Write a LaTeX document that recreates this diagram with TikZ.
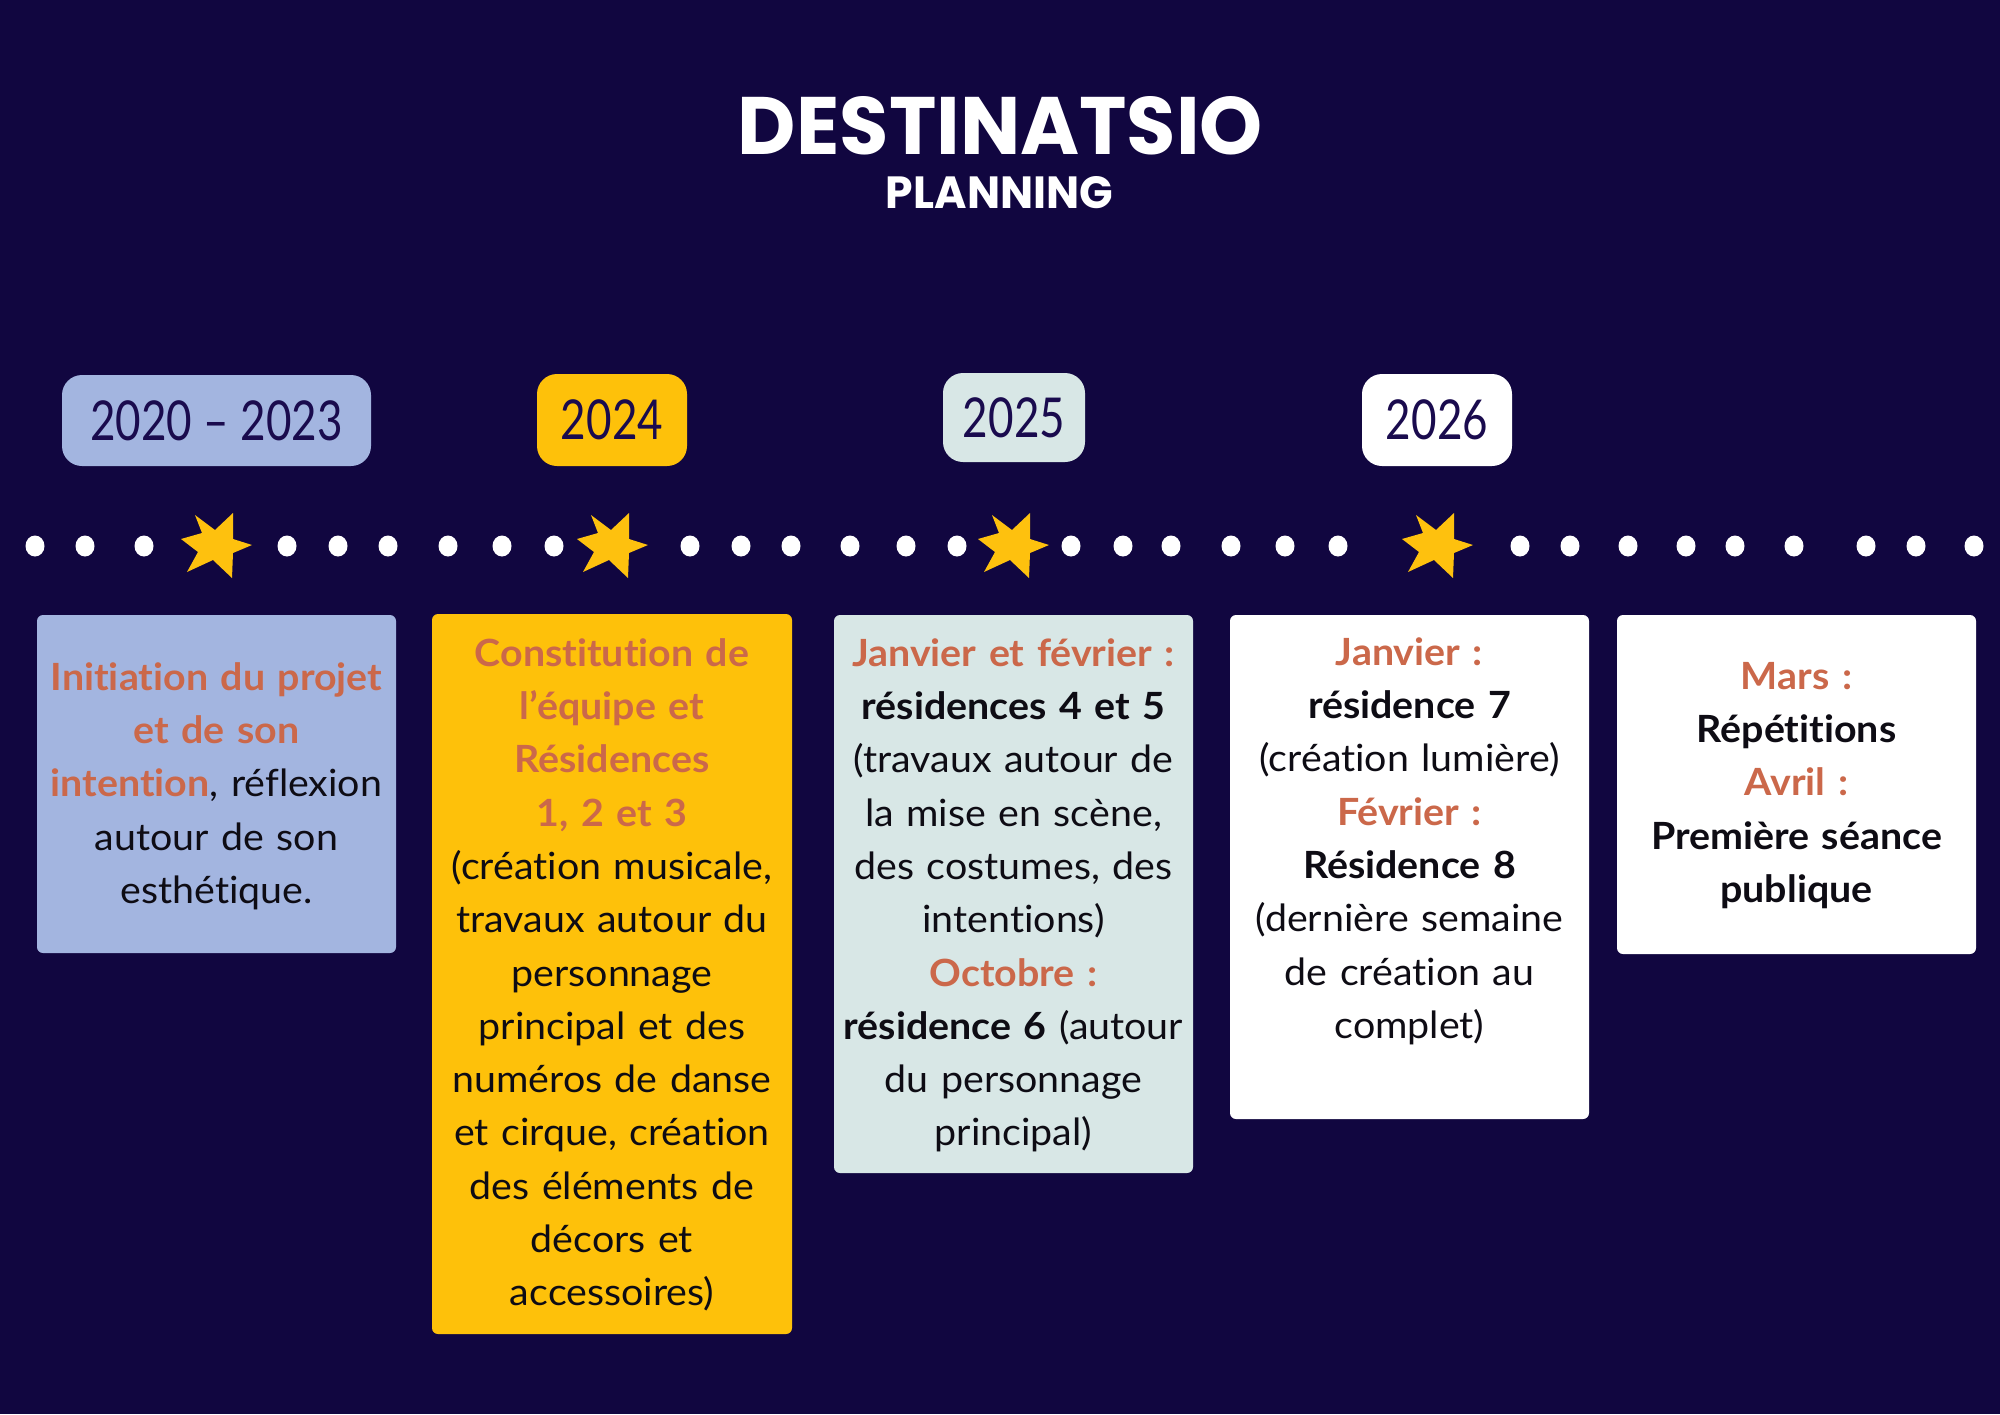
\documentclass[tikz,border=0pt]{standalone}
\usepackage{fontspec}
\usepackage{graphicx}
\setmainfont{Lato}[FakeStretch=1.05, Ligatures=NoCommon]
\newfontfamily\yearfont{Lato}[FakeStretch=0.8]
\newfontfamily\titlefont{Poppins}
\definecolor{bgcol}{RGB}{17,6,64}
\definecolor{periw}{RGB}{163,181,224}
\definecolor{amber}{RGB}{254,193,10}
\definecolor{pale}{RGB}{216,231,230}
\definecolor{accent}{RGB}{203,104,74}
\definecolor{yeartxt}{RGB}{26,11,78}
\definecolor{starcol}{RGB}{254,193,14}
\definecolor{bodytxt}{RGB}{14,12,20}
\newcommand{\hlacc}[1]{\textcolor{accent}{\bfseries #1}}
\begin{document}
\begin{tikzpicture}[x=1pt,y=-1pt,
  yearbox/.style={rectangle, rounded corners=20pt, inner sep=0pt,
    text=yeartxt, font=\yearfont\fontsize{55}{60}\selectfont},
  cardbox/.style={rectangle, rounded corners=6pt, inner sep=0pt, draw=none},
  cardtext/.style={anchor=north, inner sep=0pt, align=center, text width=420pt,
    text=bodytxt, font=\fontsize{37.5}{53.3}\selectfont},
  titletxt/.style={inner sep=0pt, text=white, font=\titlefont\bfseries}]
\useasboundingbox (0,0) rectangle (2000,1414);
\fill[bgcol] (0,0) rectangle (2000,1414);

% title
\node[titletxt] (title) at (1000.5,126) {\resizebox{525pt}{58pt}{DESTINATSIO}};
\node[titletxt] (sub) at (999.5,193) {\resizebox{227pt}{32pt}{PLANNING}};

% year boxes
\node[yearbox, fill=periw, minimum width=309pt, minimum height=91pt] (y1) at (216.5,420.5) {2020 – 2023};
\node[yearbox, fill=amber, minimum width=150pt, minimum height=92pt] (y2) at (612,420) {2024};
\node[yearbox, fill=pale, minimum width=142pt, minimum height=89pt] (y3) at (1014,417.5) {2025};
\node[yearbox, fill=white, minimum width=150pt, minimum height=92pt] (y4) at (1437,420) {2026};

% dotted timeline
\foreach \dx in {35,85,144,287,338,388,448,502,554,690,741,791,850,906,957,1071,1123,1171,1231,1285,1338,1520,1570,1628,1686,1735,1794,1866,1916,1974}
  \fill[white] (\dx,546) ellipse [x radius=9.5pt, y radius=10.5pt];

% stars
\foreach \sx in {216,612,1013,1437}
  \fill[starcol, shift={(\sx,545)}] (-21,-30) -- (-1,-15) -- (17,-32) -- (17,-6) -- (36,0) -- (17,8)
     -- (16,33) -- (-3,15) -- (-29,27) -- (-18,7) -- (-35,-6) -- (-14,-12) -- cycle;

% cards
\node[cardbox, fill=periw, minimum width=359pt, minimum height=338pt] (c1) at (216.5,784) {};
\node[cardbox, fill=amber, minimum width=360pt, minimum height=720pt] (c2) at (612,974) {};
\node[cardbox, fill=pale, minimum width=359pt, minimum height=558pt] (c3) at (1013.5,894) {};
\node[cardbox, fill=white, minimum width=359pt, minimum height=504pt] (c4) at (1409.5,867) {};
\node[cardbox, fill=white, minimum width=359pt, minimum height=339pt] (c5) at (1796.5,784.5) {};

\node[cardtext] (t1) at (216.5,654) {\rule{0pt}{36pt}\hlacc{Initiation du projet}\\
  \hlacc{et de son}\\
  \hlacc{intention}, réflexion\\
  autour de son\\
  esthétique.};

\node[cardtext] (t2) at (612,630) {\rule{0pt}{36pt}\hlacc{Constitution de}\\
  \hlacc{l’équipe et}\\
  \hlacc{Résidences}\\
  \hlacc{1, 2 et 3}\\
  (création musicale,\\
  travaux autour du\\
  personnage\\
  principal et des\\
  numéros de danse\\
  et cirque, création\\
  des éléments de\\
  décors et\\
  accessoires)};

\node[cardtext] (t3) at (1013.5,630) {\rule{0pt}{36pt}\hlacc{Janvier et février :}\\
  \textbf{résidences 4 et 5}\\
  (travaux autour de\\
  la mise en scène,\\
  des costumes, des\\
  intentions)\\
  \hlacc{Octobre :}\\
  \textbf{résidence 6} (autour\\
  du personnage\\
  principal)};

\node[cardtext] (t4) at (1409.5,629) {\rule{0pt}{36pt}\hlacc{Janvier :}\\
  \textbf{résidence 7}\\
  (création lumière)\\
  \hlacc{Février :}\\
  \textbf{Résidence 8}\\
  (dernière semaine\\
  de création au\\
  complet)};

\node[cardtext] (t5) at (1796.5,653) {\rule{0pt}{36pt}\hlacc{Mars :}\\
  \textbf{Répétitions}\\
  \hlacc{Avril :}\\
  \textbf{Première séance}\\
  \textbf{publique}};
\end{tikzpicture}
\end{document}
